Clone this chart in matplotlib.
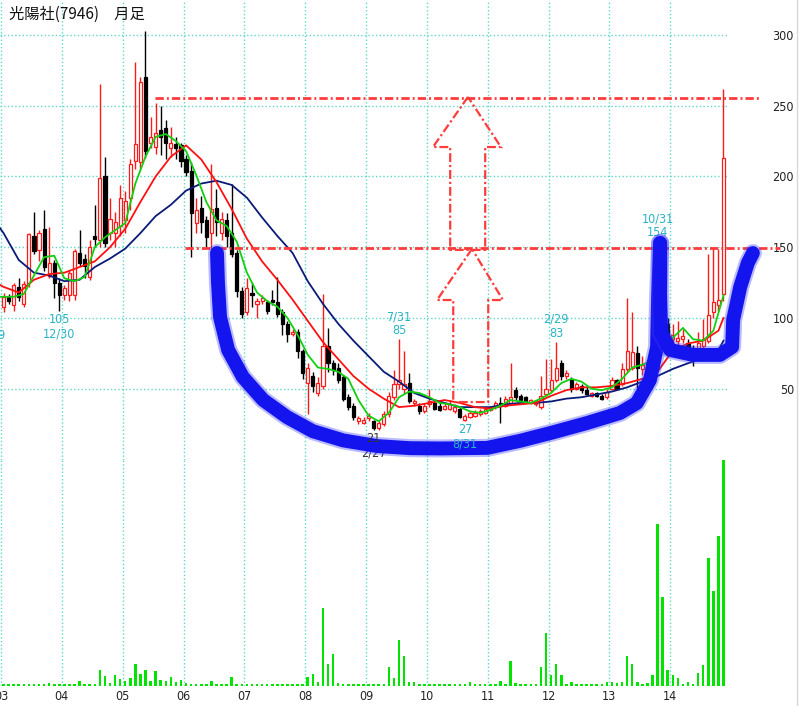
import matplotlib
matplotlib.use('agg')
import matplotlib.pyplot as plt
from matplotlib.lines import Line2D
from matplotlib.patches import Polygon

# 光陽社(7946) 月足  2003/01 - 2014/11
opens = [108, 115, 109, 122, 110, 125, 158, 148, 163, 130, 139, 125,
         116, 116, 116, 146, 142, 129, 158, 155, 200, 160, 160, 165,
         169, 185, 211, 210, 270, 224, 221, 233, 234, 220, 223, 222,
         212, 204, 167, 178, 169, 160, 178, 160, 169, 160, 146, 119,
         104, 118, 110, 112, 111, 113, 111, 104, 96, 89, 90, 77,
         54, 59, 47, 52, 80, 68, 65, 58, 44, 38, 27, 26,
         29, 27, 22, 25, 32, 44, 53, 50, 54, 40, 38, 34,
         39, 40, 38, 36, 36, 34, 36, 28, 30, 31, 32, 33,
         35, 37, 40, 38, 40, 49, 45, 44, 40, 39, 37, 46,
         49, 56, 68, 59, 57, 50, 52, 49, 45, 47, 45, 44,
         50, 56, 53, 64, 65, 75, 64, 68, 61, 72, 95, 96,
         85, 84, 85, 82, 79, 77, 80, 84, 104, 109, 117]
highs = [118, 117, 125, 128, 126, 160, 175, 162, 176, 164, 141, 128,
         123, 134, 149, 162, 145, 155, 180, 265, 214, 185, 175, 194,
         190, 212, 281, 270, 303, 242, 252, 250, 240, 235, 228, 224,
         215, 210, 185, 186, 172, 209, 191, 175, 174, 195, 148, 122,
         128, 125, 114, 116, 113, 120, 129, 106, 98, 92, 92, 78,
         68, 62, 58, 117, 93, 70, 68, 60, 46, 40, 31, 30,
         33, 28, 27, 34, 48, 63, 85, 77, 61, 43, 40, 40,
         50, 41, 40, 40, 42, 39, 37, 32, 34, 35, 36, 37,
         38, 41, 44, 45, 68, 51, 46, 45, 43, 42, 59, 71,
         71, 83, 70, 63, 58, 55, 53, 51, 48, 48, 46, 50,
         58, 57, 68, 114, 104, 80, 73, 70, 76, 120, 154, 100,
         96, 98, 92, 85, 81, 90, 99, 145, 150, 149, 262]
lows = [104, 110, 105, 112, 108, 122, 145, 140, 133, 128, 114, 105,
        113, 112, 113, 137, 128, 127, 150, 150, 150, 155, 150, 158,
        160, 176, 205, 205, 213, 220, 216, 215, 212, 214, 212, 207,
        200, 143, 160, 160, 150, 149, 158, 155, 150, 143, 115, 100,
        102, 108, 100, 110, 103, 109, 101, 88, 83, 87, 72, 57,
        32, 48, 45, 50, 62, 60, 54, 41, 35, 28, 25, 25,
        27, 21, 21, 24, 30, 42, 50, 46, 40, 38, 32, 33,
        37, 35, 34, 35, 35, 33, 29, 27, 29, 30, 31, 32,
        34, 36, 26, 37, 39, 42, 41, 40, 39, 38, 36, 45,
        48, 55, 56, 57, 48, 49, 47, 45, 44, 44, 42, 43,
        49, 49, 52, 62, 63, 50, 60, 58, 60, 68, 88, 84,
        82, 80, 82, 76, 66, 74, 78, 82, 100, 105, 112]
closes = [115, 112, 123, 115, 124, 159, 147, 160, 136, 139, 125, 116,
          121, 132, 147, 139, 137, 150, 156, 199, 153, 170, 168, 185,
          183, 209, 223, 267, 218, 228, 231, 228, 224, 224, 220, 211,
          203, 174, 176, 168, 157, 177, 168, 170, 158, 145, 119, 103,
          121, 116, 112, 114, 105, 111, 103, 96, 89, 90, 77, 61,
          65, 52, 54, 80, 68, 63, 56, 43, 37, 30, 29, 28,
          31, 22, 26, 32, 45, 53, 56, 53, 41, 41, 34, 38,
          41, 36, 35, 38, 39, 37, 30, 31, 33, 33, 34, 36,
          37, 40, 38, 43, 44, 44, 42, 41, 42, 41, 45, 50,
          56, 65, 59, 61, 50, 53, 49, 46, 47, 45, 43, 48,
          56, 50, 64, 77, 76, 65, 67, 61, 72, 95, 100, 86,
          88, 86, 87, 79, 73, 82, 85, 102, 111, 113, 213]
volume = [2, 2, 2, 2, 2, 2, 2, 2, 2, 3, 2, 2,
          2, 2, 2, 5, 2, 2, 2, 16, 10, 3, 11, 7,
          5, 8, 22, 12, 16, 5, 15, 6, 5, 9, 4, 6,
          3, 2, 2, 2, 2, 5, 2, 2, 2, 9, 2, 2,
          2, 2, 2, 2, 2, 2, 2, 2, 2, 2, 2, 2,
          9, 12, 4, 78, 22, 32, 3, 2, 2, 2, 2, 2,
          2, 2, 2, 2, 19, 8, 46, 30, 4, 4, 2, 2,
          2, 2, 2, 2, 2, 2, 2, 2, 4, 2, 2, 2,
          2, 2, 5, 2, 25, 3, 2, 2, 2, 2, 19, 53,
          11, 22, 11, 2, 4, 2, 2, 2, 2, 2, 2, 4,
          4, 3, 4, 30, 22, 4, 2, 3, 11, 162, 89, 16,
          11, 8, 2, 4, 2, 13, 21, 128, 95, 150, 226]
year_labels = ['03', '04', '05', '06', '07', '08', '09', '10', '11', '12', '13', '14']
price_ticks = [50, 100, 150, 200, 250, 300]

# 移動平均線 (チャートから読み取り)
ma_months = [-1] + list(range(0, 142, 3)) + [142]
ma_navy = [165, 160, 141, 132, 130, 126, 127, 136, 142, 149, 160, 172, 180, 190, 195,
           197, 194, 185, 171, 158, 146, 126, 110, 96, 84, 73, 62, 55, 47, 43, 40,
           37, 37, 37, 39, 40, 40, 41, 43, 44, 46, 48, 51, 55, 59, 64, 68, 72, 77, 84]
ma_red = [124, 122, 118, 127, 131, 132, 136, 140, 150, 163, 182, 200, 214, 222, 212,
          196, 177, 156, 140, 127, 113, 98, 83, 71, 59, 50, 43, 37, 38, 40, 42,
          40, 37, 36, 38, 39, 40, 45, 49, 51, 51, 52, 54, 57, 62, 77, 82, 84, 91, 100]
green_months = [-1] + list(range(0, 143, 2))
ma_green = [115, 115, 115, 117, 130, 143, 144, 128, 126, 129, 150, 157, 162, 167, 195,
            214, 228, 230, 225, 218, 201, 182, 169, 165, 154, 132, 118, 112, 108, 100,
            88, 74, 65, 64, 62, 57, 42, 31, 27, 33, 44, 48, 47, 44, 40, 39, 37, 34,
            33, 35, 38, 42, 41, 40, 43, 47, 54, 57, 55, 50, 49, 51, 57, 65, 67, 70,
            78, 86, 93, 85, 84, 91, 116]

# 安値・高値ラベル (月, 値, 日付)
low_marks = [(11, 105, '12/30'), (73, 21, '2/27'), (91, 27, '8/31')]
high_marks = [(78, 85, '7/31'), (109, 83, '2/29'), (130, 154, '10/31')]

# 書き込み (手描きの線)
resist_lines = [(255.5, 30.4, 149.7), (149.5, 36.3, 153.6)]
arrow1 = [(92.1, 256.2), (85.2, 220.8), (88.6, 220.8), (88.6, 148.1),
          (95.5, 148.1), (95.5, 220.8), (98.6, 220.8)]
arrow2 = [(92.9, 148.8), (86.0, 112.7), (89.2, 112.7), (89.2, 40.6),
          (96.1, 40.6), (96.1, 112.7), (99.0, 112.7)]
cup = [(42.6, 145.9), (42.8, 124.7), (43.2, 100.7), (44.8, 77.4), (47.7, 58.3),
       (51.7, 42.1), (56.4, 30.0), (61.5, 20.0), (67.5, 13.5), (74.2, 9.5),
       (80.7, 8.0), (86.6, 7.8), (95.9, 8.2), (102.4, 13.2), (108.9, 19.2),
       (115.6, 25.8), (122.1, 32.9), (125.4, 39.9), (128.0, 56.2), (129.4, 79.5),
       (129.6, 114.8), (130.0, 153.0)]
handle = [(130.0, 153.0), (130.0, 117.7), (130.2, 89.4), (132.0, 77.4),
          (136.5, 73.9), (141.8, 73.9), (144.2, 79.5), (144.4, 98.6),
          (145.8, 121.9), (147.3, 138.9), (148.3, 145.9)]

gridc = '#5fd6c8'
labc = '#2ab4c4'
redc = '#ff3c3c'
num_font = dict(family='DejaVu Sans', fontstretch='condensed', fontsize=9)

fig = plt.figure(figsize=(8, 7.06), dpi=100)
ax = fig.add_axes([0, 1 - 459.5 / 706, 728 / 800, 459.5 / 706])
axv = fig.add_axes([0, 1 - 686 / 706, 728 / 800, 226.5 / 706], sharex=ax)

xs = [m + 0.5 for m in range(len(opens))]

# ローソク足
for x, o, h, l, c in zip(xs, opens, highs, lows, closes):
    up = c >= o
    col = '#ff1a1a' if up else 'black'
    ax.vlines(x, l, h, color=col, lw=1, zorder=3)
    ax.bar(x, max(abs(c - o), 0.6), bottom=min(o, c), width=0.62,
           facecolor='white' if up else 'black', edgecolor=col, lw=0.9, zorder=4)

ax.plot([m + 0.5 for m in ma_months], ma_navy, color='#0a1a78', lw=1.3, zorder=5)
ax.plot([m + 0.5 for m in ma_months], ma_red, color='#ff1010', lw=1.3, zorder=5)
ax.plot([m + 0.5 for m in green_months], ma_green, color='#10d010', lw=1.3, zorder=5)

# 出来高
axv.bar(xs, volume, width=0.5, color='#00e400', zorder=3)

ax.set_xlim(-0.197, 143.39)
ax.set_ylim(0, 324.7)
axv.set_ylim(0, 226.5)

for a in (ax, axv):
    for s in a.spines.values():
        s.set_visible(False)
    a.set_xticks([12 * k for k in range(len(year_labels))])
    a.grid(axis='x', linestyle=':', color=gridc, lw=1, zorder=0)
ax.grid(axis='y', linestyle=':', color=gridc, lw=1, zorder=0)
ax.set_yticks(price_ticks)
ax.set_yticklabels([str(v) for v in price_ticks], **num_font)
ax.yaxis.tick_right()
ax.tick_params(axis='y', length=0, pad=47.5, colors='#222222')
for t in ax.get_yticklabels():
    t.set_horizontalalignment('right')
ax.tick_params(axis='x', length=0, labelbottom=False)
axv.set_yticks([])
axv.set_xticklabels(year_labels, **num_font)
axv.tick_params(axis='x', length=0, pad=3, colors='#222222')

# 高値・安値の注記
for m, v, d in low_marks:
    c = '#333333' if v == 21 else labc
    ax.annotate(str(v), (m + 0.5, v), xytext=(0, -1.5), textcoords='offset points',
                ha='center', va='top', color=c, zorder=8, **num_font)
    ax.annotate(d, (m + 0.5, v), xytext=(0, -12), textcoords='offset points',
                ha='center', va='top', color=c, zorder=5 if v == 21 else 8, **num_font)
for m, v, d in high_marks:
    dx = -3.5 if m == 130 else 0
    ax.annotate('%s\n%d' % (d, v), (m + 0.5, v), xytext=(dx, 1.5), textcoords='offset points',
                ha='center', va='bottom', color=labc, linespacing=1.1, zorder=5, **num_font)
ax.text(0.99, 88, '1/29', ha='right', va='center', color=labc, **num_font)

# 抵抗線と矢印
for lvl, x0, x1 in resist_lines:
    ax.plot([x0, x1], [lvl, lvl], color=redc, lw=2, dashes=(3, 1.1, 0.7, 1.1),
            clip_on=False, zorder=6)
for pts in (arrow1, arrow2):
    ax.add_patch(Polygon(pts, closed=True, fill=False, edgecolor=redc, lw=1.6,
                         linestyle=(0, (4, 1.3, 1, 1.3)), zorder=6))

# カップ・ウィズ・ハンドル
for pts in (cup, handle):
    px = [p[0] for p in pts]
    py = [p[1] for p in pts]
    ax.plot(px, py, color='#3a3aff', lw=13, alpha=0.35, solid_capstyle='round',
            solid_joinstyle='round', clip_on=False, zorder=7)
    ax.plot(px, py, color='#1414ee', lw=10, solid_capstyle='round',
            solid_joinstyle='round', clip_on=False, zorder=7)

fig.text(9 / 800, 1 - 14 / 706, '光陽社(7946)　月足', ha='left', va='center', fontsize=11,
         family=['Noto Sans CJK JP', 'DejaVu Sans'], color='#111111')
fig.add_artist(Line2D([797 / 800, 797 / 800], [0, 1], color='#d8d8d8', lw=1))

fig.savefig('out.png', dpi=100)
